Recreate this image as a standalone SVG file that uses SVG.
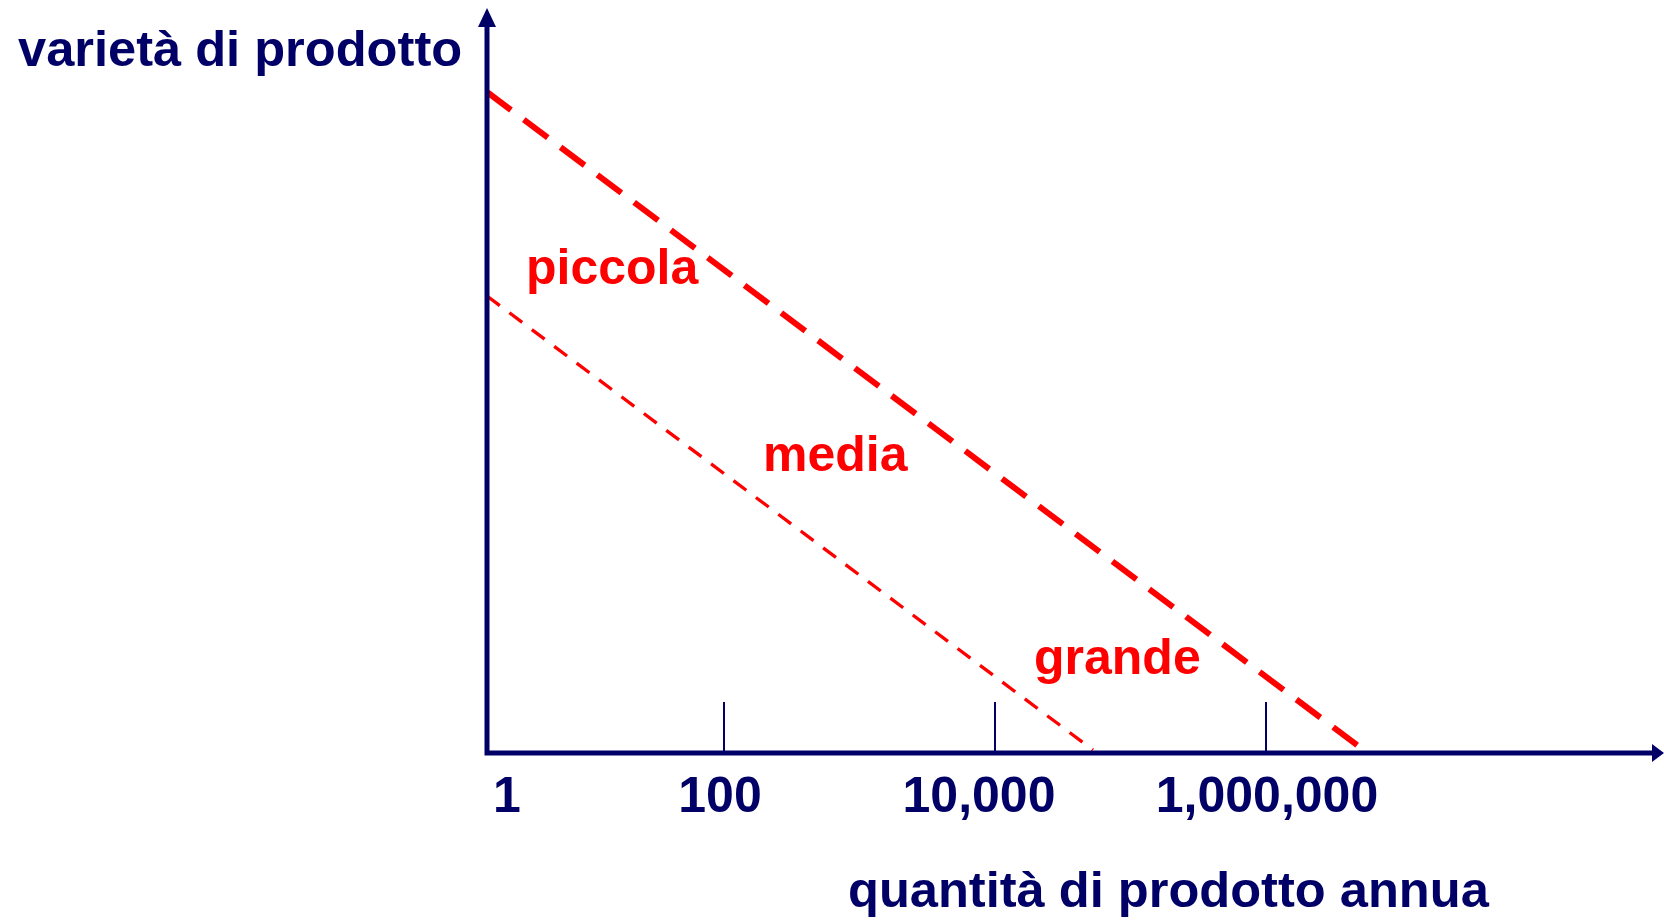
<svg xmlns="http://www.w3.org/2000/svg" width="1664" height="920" viewBox="0 0 1664 920">
<style>
.ax{stroke:#000066;stroke-width:5;fill:none}
.tk{stroke:#000066;stroke-width:2}
.nv{fill:#000066;font-family:"Liberation Sans",Arial,sans-serif;font-weight:bold;font-size:50px}
.ttl{font-size:50.6px}
.rd{fill:#ff0000;font-family:"Liberation Sans",Arial,sans-serif;font-weight:bold;font-size:50px}
.d1{stroke:#ff0000;stroke-width:6;stroke-dasharray:30 16;fill:none}
.d2{stroke:#ff0000;stroke-width:3.3;stroke-dasharray:16 12;fill:none}
</style>
<rect width="1664" height="920" fill="#ffffff"/>
<g id="connectors">
<path class="d1" d="M487,92 L1361,748"/>
<path class="d2" d="M487,296 L1093,750"/>
</g>
<g id="axes">
<path class="ax" d="M487,26 L487,753 L1654,753"/>
<polygon fill="#000066" points="487,8 478,27 496,27"/>
<polygon fill="#000066" points="1664,753 1652,744 1652,762"/>
<line class="tk" x1="724" y1="702" x2="724" y2="752"/>
<line class="tk" x1="995" y1="702" x2="995" y2="752"/>
<line class="tk" x1="1266" y1="702" x2="1266" y2="752"/>
</g>
<g id="axis-labels">
<text class="nv ttl" x="18" y="66">varietà di prodotto</text>
<text class="nv ttl" x="848" y="907">quantità di prodotto annua</text>
</g>
<g id="tick-labels">
<text class="nv" x="493" y="812">1</text>
<text class="nv" x="720" y="812" text-anchor="middle">100</text>
<text class="nv" x="979" y="812" text-anchor="middle">10,000</text>
<text class="nv" x="1267" y="812" text-anchor="middle">1,000,000</text>
</g>
<g id="piccola"><text class="rd" x="526" y="284">piccola</text></g>
<g id="media"><text class="rd" x="763" y="471">media</text></g>
<g id="grande"><text class="rd" x="1034" y="674">grande</text></g>
</svg>
